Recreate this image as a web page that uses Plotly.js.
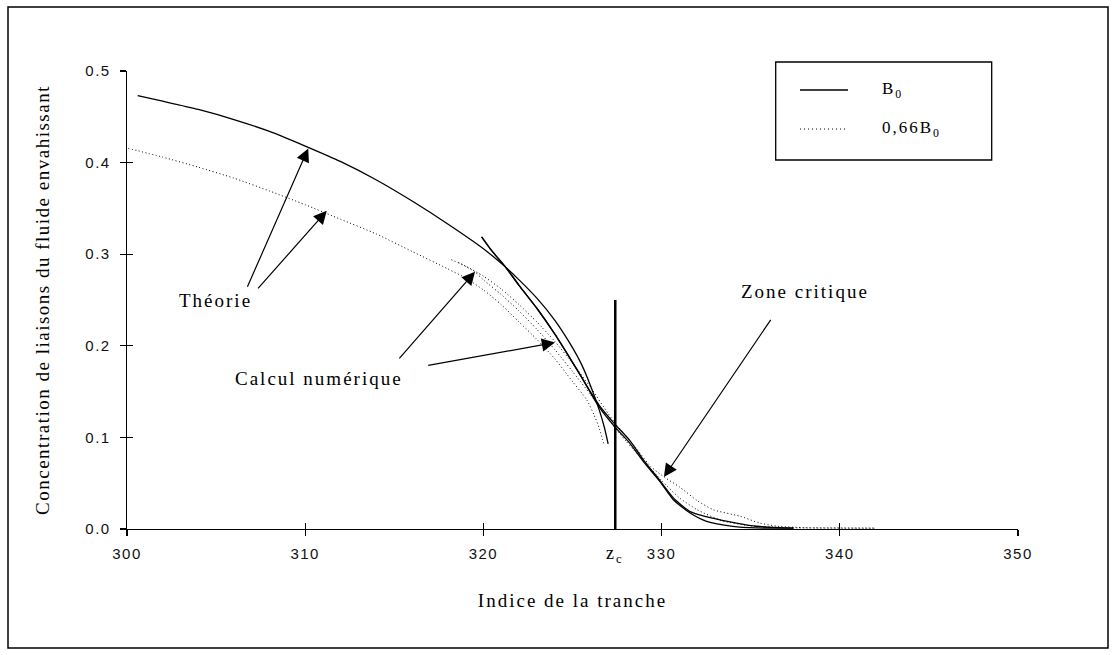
<!DOCTYPE html>
<html><head><meta charset="utf-8">
<script src="https://cdn.plot.ly/plotly-3.0.1.min.js"></script>
<style>
body{margin:0;background:#fff}
#chart{width:1115px;height:655px}
.xtick text,.ytick text{letter-spacing:1.5px}
.annotation-text{letter-spacing:2px}
.g-xtitle text{letter-spacing:2px}
.g-ytitle text{letter-spacing:1.5px}
</style></head><body><div id="chart"></div>
<script>
// ---------- data ----------
const xTicks = [300, 310, 320, 330, 340, 350];
const yTicks = [0, 0.1, 0.2, 0.3, 0.4, 0.5];
const ZC = 327.4;          // critical slice index
const ZC_TOP = 0.25;       // height of the z_c marker line

// Theory, B0 (solid)
const theoB0_x = [300.6, 302, 304, 306, 308, 310, 312, 314, 316, 318, 320, 321, 322, 323, 324, 325, 325.5, 326, 326.5, 326.8, 327.0];
const theoB0_y = [0.473, 0.467, 0.458, 0.447, 0.434, 0.418, 0.401, 0.381, 0.358, 0.333, 0.306, 0.290, 0.272, 0.252, 0.228, 0.198, 0.180, 0.157, 0.130, 0.110, 0.093];

// Theory, 0.66 B0 (dotted)
const theo066_x = [300.07, 302, 304, 306, 308, 310, 312, 314, 316, 318, 319, 320, 321, 322, 323, 324, 325, 325.8, 326.2, 326.5, 326.77];
const theo066_y = [0.4155, 0.406, 0.395, 0.383, 0.369, 0.354, 0.338, 0.322, 0.303, 0.284, 0.274, 0.261, 0.245, 0.226, 0.207, 0.186, 0.161, 0.141, 0.125, 0.110, 0.092];

// Numerical, B0 (solid, two runs)
const numB0a_x = [319.9, 320.5, 321.2, 322, 323, 324, 325, 325.5, 326, 326.5, 327.4, 328.2, 329, 329.9, 330.66, 331.6, 332.53, 334.0, 335.3, 337.4];
const numB0a_y = [0.319, 0.303, 0.287, 0.266, 0.241, 0.213, 0.182, 0.166, 0.149, 0.133, 0.111, 0.094, 0.073, 0.052, 0.032, 0.0174, 0.0083, 0.0029, 0.0012, 0.0010];
const numB0b_x = [319.9, 320.5, 321.2, 322, 323, 324, 325, 325.5, 326, 326.5, 327.4, 328.2, 329, 329.9, 330.66, 331.6, 332.5, 333.4, 334.2, 335.3, 336.5, 337.4];
const numB0b_y = [0.319, 0.303, 0.287, 0.266, 0.241, 0.213, 0.182, 0.166, 0.150, 0.135, 0.114, 0.097, 0.075, 0.053, 0.034, 0.0190, 0.0135, 0.0095, 0.0065, 0.0030, 0.0015, 0.0010];

// Numerical, 0.66 B0 (dotted, two runs)
const num066a_x = [318.2, 319, 320, 321, 322, 323, 324, 325, 326, 327, 327.5, 328.5, 329.4, 330.2, 331.0, 332.0, 332.9, 334.4, 335.5, 336.5, 338, 342];
const num066a_y = [0.294, 0.287, 0.276, 0.262, 0.245, 0.226, 0.205, 0.181, 0.155, 0.126, 0.113, 0.090, 0.068, 0.056, 0.046, 0.031, 0.021, 0.014, 0.0065, 0.003, 0.0015, 0.001];
const num066b_x = [318.6, 319.5, 320, 321, 322, 323, 324, 325, 326, 327, 328, 329, 330, 331, 332, 333.4, 335, 337, 342];
const num066b_y = [0.291, 0.281, 0.272, 0.256, 0.238, 0.218, 0.196, 0.172, 0.147, 0.120, 0.096, 0.074, 0.053, 0.034, 0.021, 0.009, 0.0035, 0.0015, 0.0008];

const legendLabels = ['B<sub>0</sub>', '0,66B<sub>0</sub>'];

// ---------- helpers (pixel -> paper, decorations only) ----------
const PL = 127, PT = 71, PW = 891, PH = 458;
const PX = X => (X - PL) / PW;
const PY = Y => (PT + PH - Y) / PH;

const SOLID = {color: '#000', width: 1.3, shape: 'spline', smoothing: 0.6};
const DOTTED = {color: '#000', width: 1, dash: '1px,2.5px', shape: 'spline', smoothing: 0.6};

const traces = [
  {x: theoB0_x, y: theoB0_y, mode: 'lines', line: SOLID, name: 'Théorie B0'},
  {x: theo066_x, y: theo066_y, mode: 'lines', line: DOTTED, name: 'Théorie 0,66B0'},
  {x: numB0a_x, y: numB0a_y, mode: 'lines', line: SOLID, name: 'Calcul B0 (a)'},
  {x: numB0b_x, y: numB0b_y, mode: 'lines', line: SOLID, name: 'Calcul B0 (b)'},
  {x: num066a_x, y: num066a_y, mode: 'lines', line: DOTTED, name: 'Calcul 0,66B0 (a)'},
  {x: num066b_x, y: num066b_y, mode: 'lines', line: DOTTED, name: 'Calcul 0,66B0 (b)'},
  {x: [ZC, ZC], y: [0, ZC_TOP], mode: 'lines', line: {color: '#000', width: 2.5}, xaxis: 'x2', yaxis: 'y2', name: 'z_c'}
];
traces.forEach(t => { t.hoverinfo = 'skip'; });

const serif = 'Liberation Serif, Times New Roman, serif';
const sans = 'Liberation Sans, Arial, sans-serif';

function arrow(tipX, tipY, tailX, tailY) {
  return {x: tipX, y: tipY, ax: tailX, ay: tailY, xref: 'x', yref: 'y', axref: 'x', ayref: 'y',
    text: '', showarrow: true, arrowhead: 2, arrowsize: 2.2, arrowwidth: 1.2, arrowcolor: '#000'};
}
function label(txt, x, y, anchor) {
  return {x: x, y: y, xref: 'x', yref: 'y', text: txt, showarrow: false,
    xanchor: anchor || 'center', yanchor: 'middle', font: {family: serif, size: 19, color: '#000'}};
}

const annotations = [
  label('Théorie', 304.94, 0.2497),
  arrow(310.17, 0.4155, 306.72, 0.2628),
  arrow(311.21, 0.3474, 307.28, 0.2610),
  label('Calcul numérique', 310.77, 0.164),
  arrow(319.53, 0.2809, 315.21, 0.1846),
  arrow(324.02, 0.2035, 316.82, 0.1784),
  label('Zone critique', 338.07, 0.259),
  arrow(330.13, 0.0567, 336.18, 0.2300),
  {x: ZC, y: 0, xref: 'x', yref: 'paper', yshift: -25, text: 'z<sub>c</sub>', showarrow: false,
   xanchor: 'center', yanchor: 'middle', font: {family: serif, size: 18, color: '#000'}},
  {x: PX(880), y: PY(90), xref: 'paper', yref: 'paper', text: legendLabels[0], showarrow: false,
   xanchor: 'left', yanchor: 'middle', font: {family: serif, size: 17, color: '#000'}},
  {x: PX(880), y: PY(129), xref: 'paper', yref: 'paper', text: legendLabels[1], showarrow: false,
   xanchor: 'left', yanchor: 'middle', font: {family: serif, size: 17, color: '#000'}}
];

const shapes = [
  {type: 'rect', xref: 'paper', yref: 'paper', x0: PX(8), x1: PX(1108), y0: PY(648), y1: PY(7),
   line: {color: '#000', width: 1.5}, fillcolor: 'rgba(0,0,0,0)'},
  {type: 'rect', xref: 'paper', yref: 'paper', x0: PX(775.7), x1: PX(991.7), y0: PY(160), y1: PY(62),
   line: {color: '#000', width: 1.3}, fillcolor: 'rgba(0,0,0,0)'},
  {type: 'line', xref: 'paper', yref: 'paper', x0: PX(800), x1: PX(848), y0: PY(90), y1: PY(90), line: {color: '#000', width: 1.3}},
  {type: 'line', xref: 'paper', yref: 'paper', x0: PX(800), x1: PX(848), y0: PY(129), y1: PY(129), line: {color: '#000', width: 1, dash: '1px,3px'}}
];

const axCommon = {showgrid: false, zeroline: false, showline: true, linecolor: '#000', linewidth: 1.3,
  ticks: 'outside', ticklen: 6, tickwidth: 1.2, tickcolor: '#000', fixedrange: true, automargin: false,
  tickfont: {family: sans, size: 15, color: '#111'}};
const innerCommon = {showgrid: false, zeroline: false, showline: false, ticks: 'inside', ticklen: 6,
  tickwidth: 1.2, tickcolor: '#000', showticklabels: false, fixedrange: true};

const layout = {
  width: 1115, height: 655,
  margin: {l: PL, r: 1115 - PL - PW, t: PT, b: 655 - PT - PH},
  paper_bgcolor: '#fff', plot_bgcolor: 'rgba(0,0,0,0)',
  showlegend: false,
  font: {family: serif, color: '#000'},
  xaxis: Object.assign({}, axCommon, {range: [300, 350], tickmode: 'array', tickvals: xTicks,
    ticklabelstandoff: 5,
    title: {text: 'Indice de la tranche', font: {family: serif, size: 19, color: '#000'}, standoff: 32}}),
  yaxis: Object.assign({}, axCommon, {range: [0, 0.5], tickmode: 'array', tickvals: yTicks, tickformat: '.1f',
    ticklabelstandoff: 6,
    title: {text: 'Concentration de liaisons du fluide envahissant', font: {family: serif, size: 19, color: '#000'}, standoff: 30}}),
  xaxis2: Object.assign({}, innerCommon, {overlaying: 'x', anchor: 'y2', range: [300, 350], tickmode: 'array', tickvals: xTicks}),
  yaxis2: Object.assign({}, innerCommon, {overlaying: 'y', anchor: 'x2', range: [0, 0.5], tickmode: 'array', tickvals: yTicks}),
  annotations: annotations,
  shapes: shapes
};

Plotly.newPlot('chart', traces, layout, {displayModeBar: false, staticPlot: true});
</script></body></html>
